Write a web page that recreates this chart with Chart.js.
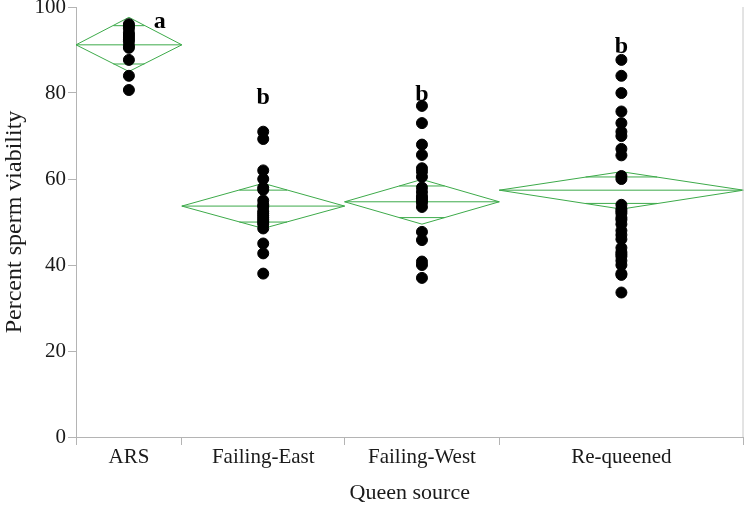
<!DOCTYPE html>
<html>
<head>
<meta charset="utf-8">
<script src="https://cdn.jsdelivr.net/npm/chart.js@4.4.1/dist/chart.umd.min.js"></script>
<style>
  body { margin: 0; background: #fff; }
  canvas { display: block; }
</style>
</head>
<body>
<canvas id="chart" width="750" height="506"></canvas>
<script>
// groups and sample sizes (x widths are proportional to n)
const groups = ['ARS', 'Failing-East', 'Failing-West', 'Re-queened'];
const groupSizes = [13, 20, 19, 30];

// means diamonds: mean and 95% CI
const means = [91.2, 53.7, 54.7, 57.4];
const ciUpper = [97.6, 59.0, 59.9, 61.7];
const ciLower = [85.0, 48.5, 49.5, 53.0];

// significance letters
const letters = ['a', 'b', 'b', 'b'];
const letterX = [10.3, 23, 42.5, 67];
const letterY = [96.5, 79, 79.5, 90.7];

// individual queens
const viabilityARS = [96, 95.5, 95, 94, 93.5, 93, 92.5, 92, 91, 90.5, 87.7, 84, 80.7];
const viabilityEast = [71, 69.3, 62, 60, 58, 57.5, 55, 54, 53.5, 52.5, 52, 51.5, 51, 50.5, 50, 49.5, 48.5, 45, 42.7, 38];
const viabilityWest = [77, 73, 68, 65.6, 62.5, 61.7, 60.5, 58, 57, 56, 55.5, 55, 54.5, 53.5, 47.7, 45.8, 40.8, 40, 37];
const viabilityRequeened = [87.7, 84, 80, 75.7, 73, 71, 70, 67, 65.5, 60.7, 60, 54, 53, 52.5, 52, 51, 50.5, 49.5, 48, 47, 46, 44, 43, 42.5, 42, 41, 40, 38, 37.7, 33.6];
const viability = [viabilityARS, viabilityEast, viabilityWest, viabilityRequeened];

const yTicks = [0, 20, 40, 60, 80, 100];

// boundaries and centres on the linear x scale
const bounds = [0];
groupSizes.forEach(n => bounds.push(bounds[bounds.length - 1] + n));
const centres = groups.map((g, i) => (bounds[i] + bounds[i + 1]) / 2);

const green = '#3daa4a';
const serif = "'Liberation Serif', 'Times New Roman', serif";

// diamond outline, mean line and overlap marks for every group
const diamondData = [];
groups.forEach((g, i) => {
    const l = bounds[i], r = bounds[i + 1], c = centres[i], m = means[i];
    const half = (ciUpper[i] - ciLower[i]) / 2;
    const f = Math.SQRT1_2;
    const w = (r - l) / 2 * (1 - f);
    diamondData.push(
        { x: l, y: m }, { x: c, y: ciUpper[i] }, { x: r, y: m }, { x: c, y: ciLower[i] }, { x: l, y: m }, { x: r, y: m }, { x: null, y: null },
        { x: c - w, y: m + half * f }, { x: c + w, y: m + half * f }, { x: null, y: null },
        { x: c - w, y: m - half * f }, { x: c + w, y: m - half * f }, { x: null, y: null }
    );
});

const pointData = [];
viability.forEach((vals, i) => vals.forEach(v => pointData.push({ x: centres[i], y: v })));

// x tick values: boundaries get a mark, centres get a label
const xTickValues = bounds.concat(centres).sort((a, b) => a - b);

const extras = {
    id: 'extras',
    afterDatasetsDraw(chart) {
        const { ctx, scales: { x, y }, chartArea } = chart;
        ctx.save();
        // right frame line
        ctx.strokeStyle = '#c8c8c8';
        ctx.lineWidth = 1;
        ctx.beginPath();
        ctx.moveTo(chartArea.right - 0.5, chartArea.top);
        ctx.lineTo(chartArea.right - 0.5, chartArea.bottom);
        ctx.stroke();
        // letters
        ctx.fillStyle = '#000';
        ctx.font = 'bold 24px ' + serif;
        ctx.textAlign = 'center';
        ctx.textBaseline = 'middle';
        letters.forEach((t, i) => {
            ctx.fillText(t, x.getPixelForValue(letterX[i]), y.getPixelForValue(letterY[i]));
        });
        ctx.restore();
    }
};

new Chart(document.getElementById('chart'), {
    type: 'scatter',
    data: {
        datasets: [
            {
                label: 'diamonds',
                type: 'line',
                data: diamondData,
                borderColor: green,
                borderWidth: 1,
                pointRadius: 0,
                fill: false,
                spanGaps: false,
                tension: 0,
                order: 2
            },
            {
                label: 'queens',
                data: pointData,
                backgroundColor: '#000',
                borderColor: '#000',
                pointRadius: 5.5,
                order: 1
            }
        ]
    },
    options: {
        responsive: false,
        animation: false,
        layout: { padding: { top: 7, right: -2, left: 0, bottom: 0 } },
        plugins: { legend: { display: false }, tooltip: { enabled: false } },
        scales: {
            x: {
                type: 'linear',
                min: 0,
                max: bounds[bounds.length - 1],
                afterBuildTicks: s => { s.ticks = xTickValues.map(v => ({ value: v })); },
                afterFit: s => { s.height = 69; s.paddingLeft = 0; s.paddingRight = 0; },
                border: { color: '#b4b4b4' },
                grid: {
                    drawOnChartArea: false,
                    tickLength: 8,
                    tickColor: ctx => bounds.includes(ctx.tick && ctx.tick.value) ? '#b4b4b4' : 'rgba(0,0,0,0)'
                },
                ticks: {
                    autoSkip: false,
                    maxRotation: 0,
                    padding: 0,
                    color: '#1a1a1a',
                    font: { family: serif, size: 21 },
                    callback: v => {
                        const i = centres.indexOf(v);
                        return i >= 0 ? groups[i] : '';
                    }
                },
                title: {
                    display: true,
                    text: 'Queen source',
                    color: '#1a1a1a',
                    font: { family: serif, size: 22 },
                    padding: { top: 6, bottom: 0 }
                }
            },
            y: {
                min: 0,
                max: 100,
                afterBuildTicks: s => { s.ticks = yTicks.map(v => ({ value: v })); },
                afterFit: s => { s.width = 76; s.paddingTop = 0; s.paddingBottom = 0; },
                border: { color: '#b4b4b4' },
                grid: { drawOnChartArea: false, tickLength: 8, tickColor: '#b4b4b4' },
                ticks: {
                    padding: 2,
                    color: '#1a1a1a',
                    font: { family: serif, size: 21 }
                },
                title: {
                    display: true,
                    text: 'Percent sperm viability',
                    color: '#1a1a1a',
                    font: { family: serif, size: 24 },
                    padding: { top: 0, bottom: 2 }
                }
            }
        }
    },
    plugins: [extras]
});
</script>
</body>
</html>
